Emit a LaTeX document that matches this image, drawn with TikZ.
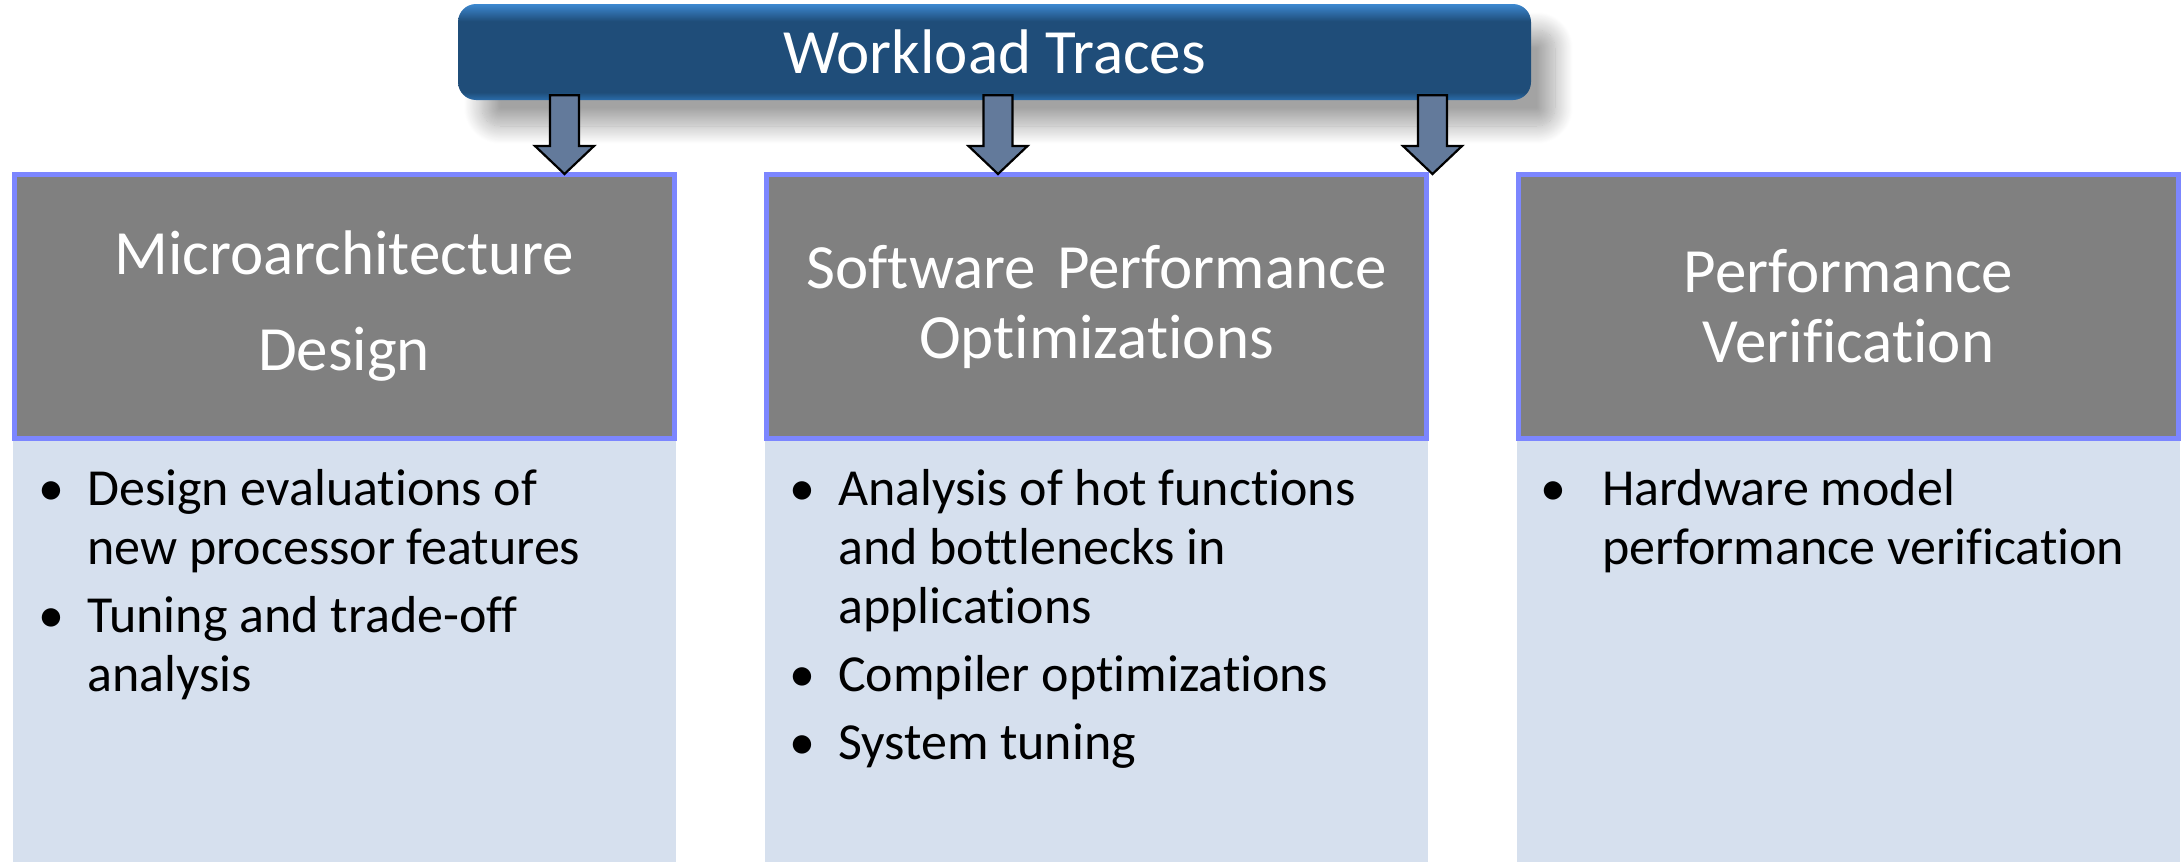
\documentclass[tikz,border=0pt]{standalone}
\usepackage{fontspec}
\setmainfont{Carlito}[Ligatures=NoCommon]
\usetikzlibrary{calc,shadows.blur}
\definecolor{hborder}{RGB}{124,134,255}
\definecolor{hgray}{RGB}{128,128,128}
\definecolor{bodyblue}{RGB}{214,224,238}
\definecolor{arrowfill}{RGB}{99,122,155}
\definecolor{bntop}{RGB}{60,136,208}
\definecolor{bnmid}{RGB}{31,77,121}
\definecolor{bnbot}{RGB}{42,108,170}
\pgfdeclareverticalshading{bannershade}{100bp}{color(0bp)=(bnbot); color(25bp)=(bnbot); color(29bp)=(bnmid); color(66bp)=(bnmid); color(75bp)=(bntop); color(100bp)=(bntop)}
% bullet at start of an item, indent #1
\newcommand\bfirst[1]{\strut\makebox[#1][l]{\makebox[40pt][c]{\textbullet}}}
% continuation line, indent #1
\newcommand\bnext[1]{\strut\hspace*{#1}}
\newcommand\blockarr[2]{%
  \path[blockarrow] let \p1=(#1 |- wt.south), \p2=(#1 |- #2.north) in
    (\x1-14.5pt,\y1+5pt) -- (\x1+14.5pt,\y1+5pt) -- (\x1+14.5pt,\y2+26pt) --
    (\x1+29.5pt,\y2+26pt) -- (\x1,\y2-2pt) -- (\x1-29.5pt,\y2+26pt) --
    (\x1-14.5pt,\y2+26pt) -- cycle;}
\begin{document}
\begin{tikzpicture}[x=1pt,y=-1pt,
  banner/.style={rectangle, rounded corners=18pt, minimum width=1073pt, minimum height=96pt,
    shade, shading=bannershade, text=white, font=\fontsize{63}{70}\selectfont, inner sep=0pt,
    blur shadow={shadow xshift=24pt, shadow yshift=-26pt, shadow blur radius=18pt,
      shadow blur steps=24, shadow opacity=36}},
  headerbox/.style={rectangle, draw=hborder, line width=5pt, fill=hgray, minimum width=660pt,
    minimum height=264pt, text width=640pt, align=center, text=white, inner sep=0pt},
  bodybox/.style={rectangle, fill=bodyblue, minimum width=663pt, minimum height=424pt, inner sep=0pt},
  bodytext/.style={anchor=north west, inner sep=0pt, align=left,
    font=\fontsize{52}{59}\selectfont},
  blockarrow/.style={draw=black, line width=2.2pt, fill=arrowfill, line join=miter}]
\useasboundingbox (0,0) rectangle (2182,862);
% bodies
\node[bodybox] (b1) at (344,650) {};
\node[bodybox] (b2) at (1096.5,650) {};
\node[bodybox] (b3) at (1848.5,650) {};
% headers
\node[headerbox, font=\fontsize{63}{96}\selectfont] (h1) at (344,306.5) {Microarchitecture\\Design};
\node[headerbox, font=\fontsize{63}{70}\selectfont] (h2) at (1096.5,306.5) {Software Performance\\Optimizations};
\node[headerbox, font=\fontsize{63}{70}\selectfont] (h3) at (1848.5,306.5) {Performance\\Verification};
% banner
\node[banner] (wt) at (994.5,52) {Workload Traces};
% body texts
\node[bodytext] (t1) at (31,463.7) {%
  \bfirst{56pt}Design evaluations of\\
  \bnext{56pt}new processor features\\[9pt]
  \bfirst{56pt}Tuning and trade-off\\
  \bnext{56pt}analysis};
\node[bodytext] (t2) at (782,463.7) {%
  \bfirst{56pt}Analysis of hot functions\\
  \bnext{56pt}and bottlenecks in\\
  \bnext{56pt}applications\\[9pt]
  \bfirst{56pt}Compiler optimizations\\[9pt]
  \bfirst{56pt}System tuning};
\node[bodytext] (t3) at (1533,463.7) {%
  \bfirst{69pt}Hardware model\\
  \bnext{69pt}performance verification};
% arrows
\coordinate (a1) at (564.5,0);
\coordinate (a2) at (998,0);
\coordinate (a3) at (1432.5,0);
\blockarr{a1}{h1}
\blockarr{a2}{h2}
\blockarr{a3}{h2}
\end{tikzpicture}
\end{document}
